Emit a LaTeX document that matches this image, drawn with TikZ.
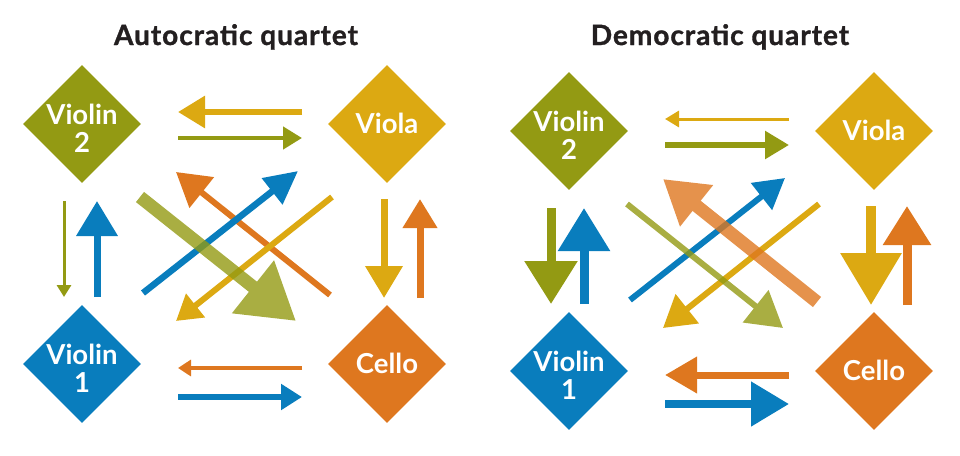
\documentclass[tikz,border=0pt]{standalone}
\usepackage{fontspec}
\setmainfont{Lato}
\usetikzlibrary{arrows.meta, shapes.geometric}

\definecolor{violintwo}{HTML}{939A13}
\definecolor{viola}{HTML}{DCA912}
\definecolor{violinone}{HTML}{097DBD}
\definecolor{cello}{HTML}{DE771F}
\definecolor{ink}{HTML}{231F20}

\newcommand{\tall}{\rule{0pt}{28pt}}

\tikzstyle{player}=[diamond, minimum size=118pt, inner sep=-8pt, text=white, align=center, font=\fontsize{27.5}{28}\selectfont\bfseries]
\tikzstyle{oneline}=[text height=25pt, text depth=7pt]
\tikzset{
    flow/.style n args={4}{draw=#1, line width=#2, -{Triangle[length=#3, width=#4]}},
    heading/.style={anchor=base, text=ink, font=\fontsize{28}{32}\selectfont\bfseries\addfontfeatures{LetterSpace=3.5, FakeBold=1.2}}
}

% arrow ends, the same in both quartets
\newcommand{\arrowends}{%
  \coordinate (n1e) at (302,112); \coordinate (n1w) at (178,112);
  \coordinate (n2w) at (178,138); \coordinate (n2e) at (302,138);
  \coordinate (s1e) at (302,368); \coordinate (s1w) at (178,368);
  \coordinate (s2w) at (178,397); \coordinate (s2e) at (302,397);
  \coordinate (w1n) at (64,201);  \coordinate (w1s) at (64,297);
  \coordinate (w2s) at (97,297);  \coordinate (w2n) at (97,201);
  \coordinate (e1n) at (384,199); \coordinate (e1s) at (384,298);
  \coordinate (e2s) at (420,298); \coordinate (e2n) at (420,199);
  \coordinate (xb1) at (143,293); \coordinate (xb2) at (298,171);
  \coordinate (xo1) at (330,295); \coordinate (xo2) at (176,172);
  \coordinate (xg1) at (332,197); \coordinate (xg2) at (176,321);
  \coordinate (xl1) at (140,197); \coordinate (xl2) at (296,321);
}

\begin{document}
\begin{tikzpicture}[x=1pt, y=-1pt]
  \useasboundingbox (0,0) rectangle (960,455);

  \node[heading] (autoTitle) at (236,45) {Autocratic quartet};
  \node[heading] (demoTitle) at (720,45) {Democratic quartet};

  % autocratic
  \begin{scope}[name prefix=A-]
    \node[player, fill=violintwo] (v2) at (82,124) {\tall Violin\\2};
    \node[player, oneline, fill=viola] (va) at (387,124) {Viola};
    \node[player, fill=violinone] (v1) at (82,364) {\tall Violin\\1};
    \node[player, oneline, fill=cello] (ce) at (387,364) {Cello};
    \arrowends
    \draw[flow={viola}{6pt}{27pt}{31pt}] (n1e) -- (n1w);
    \draw[flow={violintwo}{4.5pt}{19pt}{22pt}] (n2w) -- (n2e);
    \draw[flow={cello}{3.5pt}{13pt}{16pt}] (s1e) -- (s1w);
    \draw[flow={violinone}{5.5pt}{21pt}{25pt}] (s2w) -- (s2e);
    \draw[flow={violintwo}{3pt}{12pt}{14pt}] (w1n) -- (w1s);
    \draw[flow={violinone}{7pt}{35pt}{40pt}] (w2s) -- (w2n);
    \draw[flow={viola}{7pt}{32pt}{36pt}] (e1n) -- (e1s);
    \draw[flow={cello}{7pt}{29pt}{33pt}] (e2s) -- (e2n);
    \draw[flow={cello}{6pt}{33pt}{38pt}] (xo1) -- (xo2);
    \draw[flow={violinone}{6.5pt}{33pt}{32pt}] (xb1) -- (xb2);
    \draw[flow={viola}{6pt}{25pt}{29pt}] (xg1) -- (xg2);
    \begin{scope}[transparency group, opacity=.8]
      \draw[flow={violintwo}{13pt}{55pt}{64pt}] (xl1) -- (xl2);
    \end{scope}
  \end{scope}

  % democratic
  \begin{scope}[shift={(487,7)}, name prefix=D-]
    \node[player, fill=violintwo] (v2) at (82,124) {\tall Violin\\2};
    \node[player, oneline, fill=viola] (va) at (387,124) {Viola};
    \node[player, fill=violinone] (v1) at (82,364) {\tall Violin\\1};
    \node[player, oneline, fill=cello] (ce) at (387,364) {Cello};
    \arrowends
    \draw[flow={viola}{3pt}{14pt}{16pt}] (n1e) -- (n1w);
    \draw[flow={violintwo}{5.5pt}{24pt}{27pt}] (n2w) -- (n2e);
    \draw[flow={cello}{7pt}{32pt}{35pt}] (s1e) -- (s1w);
    \draw[flow={violinone}{8pt}{38pt}{43pt}] (s2w) -- (s2e);
    \draw[flow={violintwo}{9pt}{43pt}{51pt}] (w1n) -- (w1s);
    \draw[flow={violinone}{9pt}{43pt}{50pt}] (w2s) -- (w2n);
    \draw[flow={viola}{10pt}{52pt}{59pt}] (e1n) -- (e1s);
    \draw[flow={cello}{9pt}{39pt}{46pt}] (e2s) -- (e2n);
    \draw[flow={violinone}{6pt}{30pt}{33pt}] (xb1) -- (xb2);
    \draw[flow={viola}{6pt}{31pt}{36pt}] (xg1) -- (xg2);
    \begin{scope}[transparency group, opacity=.8]
      \draw[flow={cello}{13pt}{43pt}{50pt}] (xo1) -- (xo2);
    \end{scope}
    \begin{scope}[transparency group, opacity=.8]
      \draw[flow={violintwo}{6pt}{35pt}{40pt}] (xl1) -- (xl2);
    \end{scope}
  \end{scope}
\end{tikzpicture}
\end{document}
